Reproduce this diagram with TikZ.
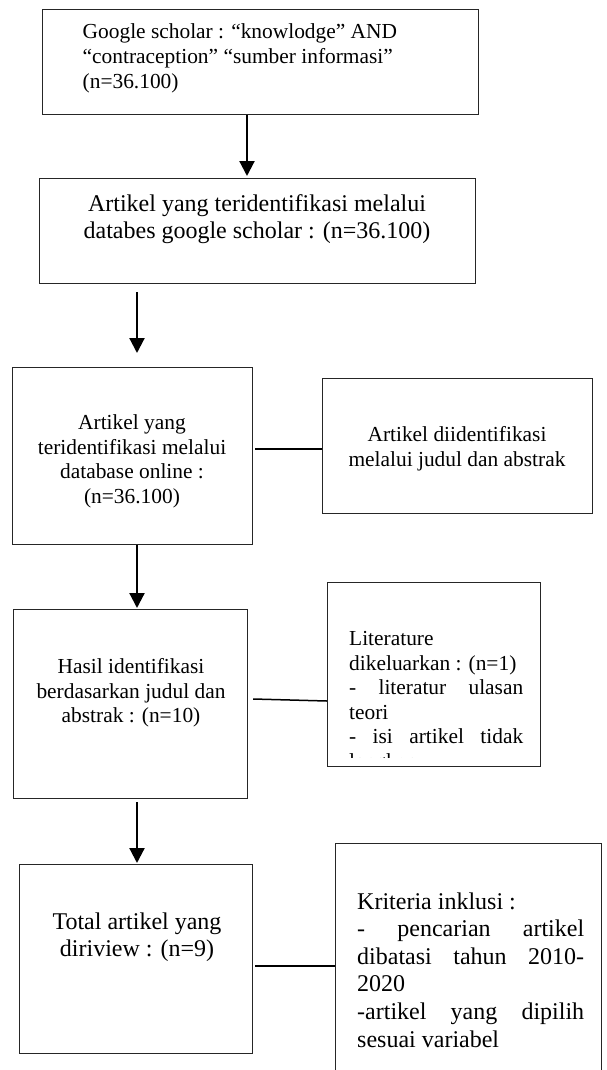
\documentclass[tikz,border=0pt]{standalone}
\usepackage{fontspec}
\setmainfont{Liberation Serif}[Ligatures={TeX,NoCommon}]
\usetikzlibrary{arrows.meta}
\newcommand\fsA{\fontsize{21.4}{24.6}\selectfont}
\newcommand\fsB{\fontsize{24}{27.6}\selectfont}
\begin{document}
\begin{tikzpicture}[x=1pt,y=-1pt,
  box/.style={draw=black!85, line width=1.2pt, inner sep=0pt, anchor=north west},
  txt/.style={inner sep=0pt, text=black},
  arr/.style={line width=2.2pt, -{Triangle[length=15pt,width=15pt]}},
  link/.style={line width=1.5pt, draw=black}]
\clip (0,0) rectangle (607,1070);
\fill[white] (0,0) rectangle (607,1070);

% boxes
\node[box, minimum width=436pt, minimum height=105pt] (box1) at (42,9) {};
\node[box, minimum width=436pt, minimum height=105pt] (box2) at (39,178) {};
\node[box, minimum width=240pt, minimum height=177pt] (box3) at (12,367) {};
\node[box, minimum width=270pt, minimum height=135pt] (box4) at (322,378) {};
\node[box, minimum width=234pt, minimum height=189pt] (box5) at (13,609) {};
\node[box, minimum width=213pt, minimum height=184pt] (box6) at (327,582) {};
\node[box, minimum width=233pt, minimum height=189pt] (box7) at (19,864) {};
\node[box, minimum width=266pt, minimum height=240pt] (box8) at (335,843) {};

% texts
\node[txt, anchor=base west] (t1) at (82.5,39) {\fsA\parbox[t]{390pt}{\raggedright
Google scholar : “knowlodge” AND\\
“contraception” “sumber informasi”\\
(n=36.100)}};
\node[txt, anchor=base] (t2) at (257,211) {\fsB\parbox[t]{420pt}{\centering
Artikel yang teridentifikasi melalui\\
databes google scholar : (n=36.100)}};
\node[txt, anchor=base] (t3) at (132,429.5) {\fsA\parbox[t]{230pt}{\centering
Artikel yang\\
teridentifikasi melalui\\
database online :\\
(n=36.100)}};
\node[txt, anchor=base] (t4) at (457,441.5) {\fsA\parbox[t]{260pt}{\centering
Artikel diidentifikasi\\
melalui judul dan abstrak}};
\node[txt, anchor=base] (t5) at (131,673.5) {\fsA\parbox[t]{228pt}{\centering
Hasil identifikasi\\
berdasarkan judul dan\\
abstrak : (n=10)}};
\begin{scope}
\clip (327,582) rectangle (540,757.5);
\node[txt, anchor=base west] (t6) at (349,645.5) {\fsA\parbox[t]{174pt}{\raggedright
Literature\\
dikeluarkan : (n=1)\\
\makebox[\linewidth][s]{- literatur ulasan}\\
teori\\
\makebox[\linewidth][s]{- isi artikel tidak}\\
lengkap}};
\end{scope}
\node[txt, anchor=base] (t7) at (137,929) {\fsB\parbox[t]{228pt}{\centering
Total artikel yang\\
diriview : (n=9)}};
\node[txt, anchor=base west] (t8) at (357,909) {\fsB\parbox[t]{227pt}{\raggedright
Kriteria inklusi :\\
\makebox[\linewidth][s]{- pencarian artikel}\\
\makebox[\linewidth][s]{dibatasi tahun 2010-}\\
2020\\
\makebox[\linewidth][s]{-artikel yang dipilih}\\
sesuai variabel}};

% arrows
\coordinate (ax1) at (247,0);
\coordinate (ax2) at (137,0);
\draw[arr, shorten >=2pt] (box1.south -| ax1) -- (box2.north -| ax1);
\draw[arr, shorten <=8pt, shorten >=14pt] (box2.south -| ax2) -- (box3.north -| ax2);
\draw[arr, shorten >=1pt] (box3.south -| ax2) -- (box5.north -| ax2);
\draw[arr, shorten <=3pt, shorten >=1pt] (box5.south -| ax2) -- (box7.north -| ax2);

% side links
\coordinate (j1) at (0,449);
\coordinate (j2a) at (0,699);
\coordinate (j2b) at (0,701);
\coordinate (j3) at (0,966);
\draw[link] ([xshift=2pt]box3.east |- j1) -- (box4.west |- j1);
\draw[link] ([xshift=5pt]box5.east |- j2a) -- (box6.west |- j2b);
\draw[link] ([xshift=2pt]box7.east |- j3) -- (box8.west |- j3);
\end{tikzpicture}
\end{document}
